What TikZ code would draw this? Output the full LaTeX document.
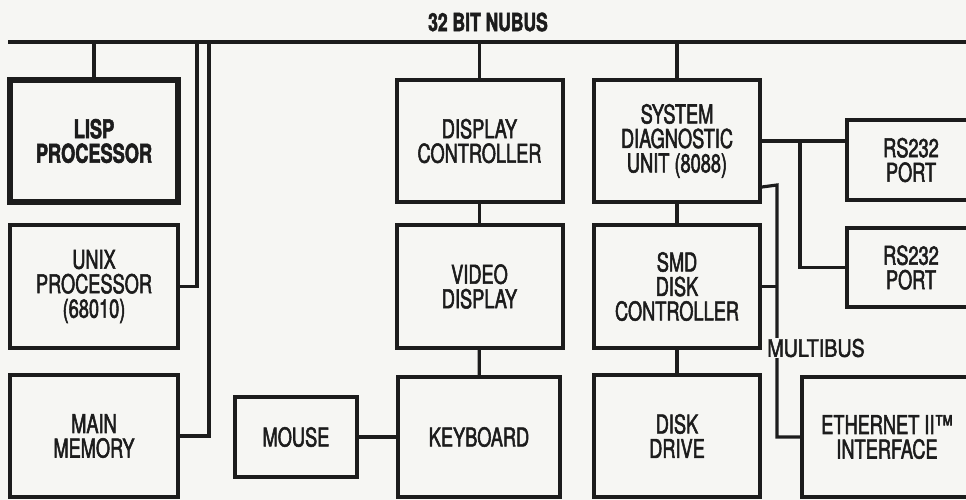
\documentclass[tikz,border=0pt]{standalone}
\usepackage{fontspec}
\setmainfont{TeX Gyre Heros}[FakeStretch=0.70, FakeBold=2]
\newfontfamily\widesf{TeX Gyre Heros}[FakeStretch=0.82, FakeBold=2]
\usetikzlibrary{calc}
\definecolor{paper}{RGB}{246,246,243}
\definecolor{ink}{RGB}{28,28,28}

\begin{document}
\begin{tikzpicture}[
	x=1pt, y=-1pt,
	font=\fontsize{26}{24.5}\selectfont,
	text=ink,
	unit/.style={draw=ink, fill=paper, line width=4pt, align=center, inner sep=0pt,
		minimum width=166pt, minimum height=122pt},
	cpu/.style={unit, line width=6.5pt, font=\fontsize{26}{24.5}\selectfont\bfseries},
	port/.style={unit, minimum width=128pt, minimum height=80pt},
	wire/.style={draw=ink, line width=3.2pt}
	]
	\fill[paper] (0,0) rectangle (966,500);
	\useasboundingbox (0,0) rectangle (966,500);

	% the nubus
	\coordinate (busL) at (8,42);
	\coordinate (busR) at (966,42);
	\coordinate (tapA) at (197,42);
	\coordinate (tapB) at (209,42);
	\draw[wire] (busL) -- (busR);
	\node[font=\fontsize{25}{25}\selectfont\bfseries] (nubus) at (488,22) {32 BIT NUBUS};

	% left column
	\node[cpu, minimum width=168pt] (lisp) at (94,141) {LISP\\PROCESSOR};
	\node[unit, minimum width=168pt, minimum height=123pt] (unix) at (94,286.5) {UNIX\\PROCESSOR\\(68010)};
	\node[unit, minimum width=168pt] (mem) at (94,436) {MAIN\\MEMORY};

	% display column
	\node[unit] (dispctl) at (479.5,141) {DISPLAY\\CONTROLLER};
	\node[unit, minimum height=123pt] (video) at (479.5,286.5) {VIDEO\\DISPLAY};
	\node[unit, minimum width=162pt, minimum height=120pt] (keyb) at (479,437) {KEYBOARD};
	\node[unit, minimum width=122pt, minimum height=80pt] (mouse) at (296,437) {MOUSE};

	% diagnostic and disk column
	\node[unit] (sdu) at (677,141) {SYSTEM\\DIAGNOSTIC\\UNIT (8088)};
	\node[unit, minimum height=123pt] (smd) at (677,286.5) {SMD\\DISK\\CONTROLLER};
	\node[unit] (disk) at (677,436) {DISK\\DRIVE};

	% right column
	\node[port] (rsa) at (911,160) {RS232\\PORT};
	\node[port, minimum height=79pt] (rsb) at (911,267.5) {RS232\\PORT};
	\node[unit, minimum width=170pt, minimum height=120pt] (eth) at (887,437) {ETHERNET II™\\INTERFACE};

	\coordinate (rsj) at (800,141);
	\coordinate (mb) at (777,185);

	\draw[wire] (lisp.north) -- (lisp.north |- busL);
	\draw[wire] (unix.east) -| (tapA);
	\draw[wire] (mem.east) -| (tapB);
	\draw[wire] (dispctl.north) -- (dispctl.north |- busL);
	\draw[wire] (sdu.north) -- (sdu.north |- busL);
	\draw[wire] (dispctl) -- (video);
	\draw[wire] (video) -- (keyb);
	\draw[wire] (mouse) -- (keyb);
	\draw[wire] (sdu) -- (smd);
	\draw[wire] (smd) -- (disk);
	\draw[wire] (sdu.east) -- (sdu.east -| rsa.west);
	\draw[wire] (rsj) |- (rsb.west);

	% multibus
	\draw[wire] ([yshift=17pt]sdu.south east) -- (mb) |- (eth.west);
	\draw[wire] (smd.east) -- (smd.east -| mb);
	\node[fill=paper, inner sep=1pt, font=\widesf\fontsize{24}{24}\selectfont] (multibus) at (816,348) {MULTIBUS};
\end{tikzpicture}
\end{document}
